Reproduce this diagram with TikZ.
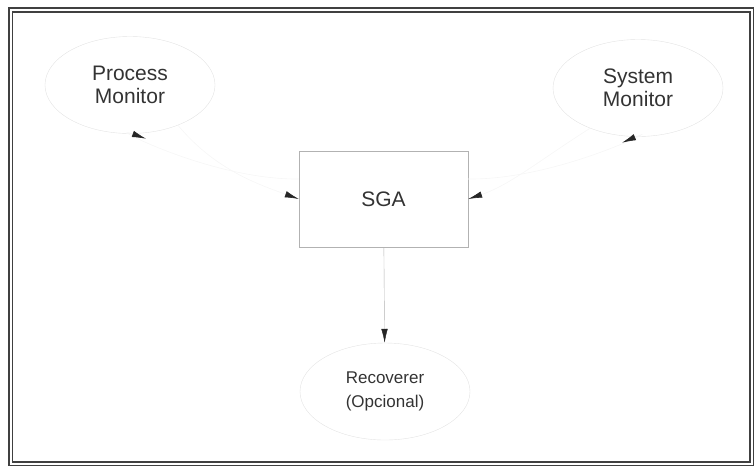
\documentclass[tikz,border=0pt]{standalone}
\usepackage{fontspec}
\setmainfont{Liberation Sans}
\usetikzlibrary{arrows.meta,shapes.geometric}
\begin{document}
\begin{tikzpicture}[x=1pt, y=-1pt, >={Latex[length=14pt,width=6.5pt,color=black!85]},
    proc/.style={ellipse, draw=gray!22, minimum width=170pt, minimum height=97pt, inner sep=0pt, align=center, font=\fontsize{21}{23}\selectfont, text=black!80},
    faint/.style={->, draw=gray!7, line width=0.6pt}]
    \useasboundingbox (0,0) rectangle (754,467);
    \draw[black!75, line width=1.8pt, double, double distance=2pt] (10.5,10) rectangle (751.5,463.5);
    \node[proc] (pm) at (130,85) {Process\\Monitor};
    \node[proc] (sm) at (638,88) {System\\Monitor};
    \node[draw=gray!60, minimum width=169pt, minimum height=96pt, font=\fontsize{21}{23}\selectfont, text=black!80] (sga) at (383.5,199) {SGA};
    \node[proc, font=\fontsize{17}{24}\selectfont] (rec) at (385,391.5) {Recoverer\\(Opcional)};
    \draw[->, gray!60] (sga) -- (rec);
    \draw[faint] (pm.-40) .. controls (215,170) and (260,185) .. (sga.west);
    \draw[faint] ([yshift=20pt]sga.west) .. controls (210,180) and (100,122) .. ([shift={(16pt,-5pt)}]pm.south);
    \draw[faint] (sm.-140) .. controls (540,160) and (510,185) .. (sga.east);
    \draw[faint] ([yshift=20pt]sga.east) .. controls (560,180) and (670,122) .. ([shift={(-16pt,-6pt)}]sm.south);
\end{tikzpicture}
\end{document}
